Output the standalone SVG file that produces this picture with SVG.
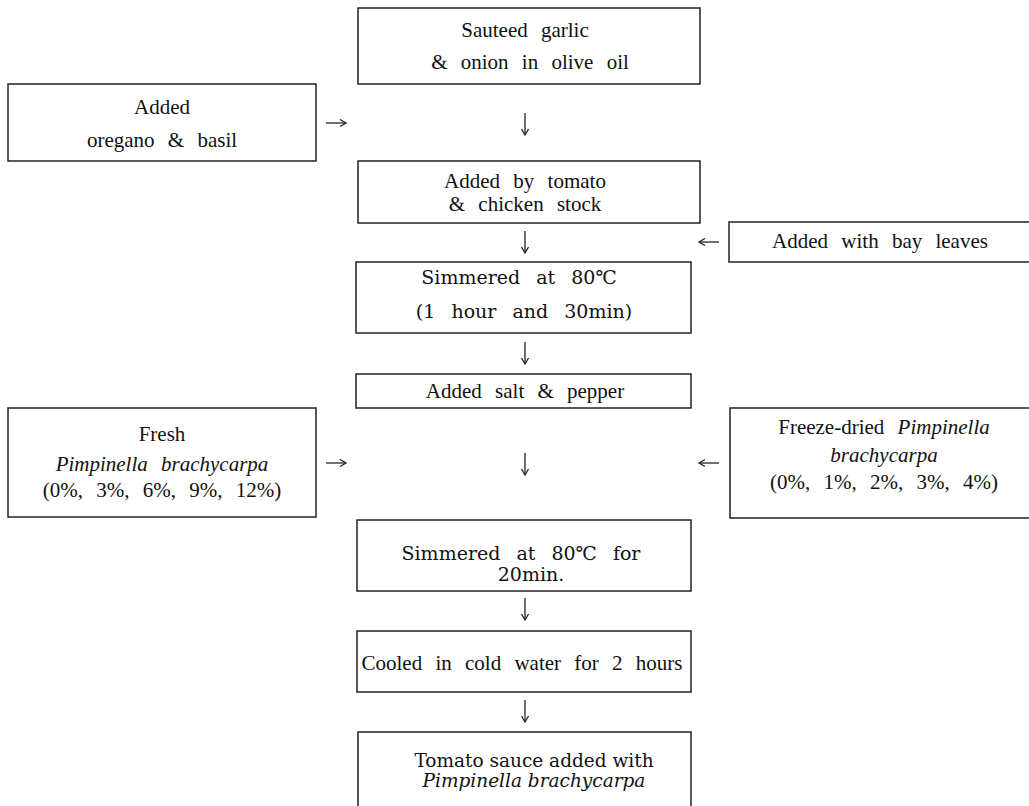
<svg xmlns="http://www.w3.org/2000/svg" width="1029" height="806" viewBox="0 0 1029 806">
<style>
rect.box{fill:#fff;stroke:#222;stroke-width:1.5}
text{fill:#111;text-anchor:middle}
.t{font-family:"Liberation Serif","Times New Roman",serif;font-size:21px;word-spacing:8px}
.b{font-family:"DejaVu Serif","Noto Sans CJK KR",serif;font-size:19px;word-spacing:10px}
.bt{font-size:18.5px;word-spacing:0px}
.i{font-style:italic}
.arr line{stroke:#222;stroke-width:1.3}
.arr path{fill:none;stroke:#222;stroke-width:1.3}
</style>
<rect width="1029" height="806" fill="#fff"/>
<g id="connectors" class="arr">
  <line x1="525" y1="113" x2="525" y2="135"/><path d="M521.5,129 L525,135 L528.5,129"/>
  <line x1="525" y1="231" x2="525" y2="253"/><path d="M521.5,247 L525,253 L528.5,247"/>
  <line x1="525" y1="342" x2="525" y2="364"/><path d="M521.5,358 L525,364 L528.5,358"/>
  <line x1="525" y1="453" x2="525" y2="475"/><path d="M521.5,469 L525,475 L528.5,469"/>
  <line x1="525" y1="598" x2="525" y2="620"/><path d="M521.5,614 L525,620 L528.5,614"/>
  <line x1="525" y1="700" x2="525" y2="722"/><path d="M521.5,716 L525,722 L528.5,716"/>
  <line x1="326" y1="123" x2="346" y2="123"/><path d="M340,119.5 L346,123 L340,126.5"/>
  <line x1="326" y1="463" x2="346" y2="463"/><path d="M340,459.5 L346,463 L340,466.5"/>
  <line x1="699" y1="242" x2="719" y2="242"/><path d="M705,238.5 L699,242 L705,245.5"/>
  <line x1="699" y1="463" x2="719" y2="463"/><path d="M705,459.5 L699,463 L705,466.5"/>
</g>
<g id="n1"><rect class="box" x="358" y="8" width="342" height="76"/>
  <text class="t" x="525" y="37">Sauteed garlic</text>
  <text class="t" x="530" y="69">&amp; onion in olive oil</text></g>
<g id="n_oregano"><rect class="box" x="8" y="84" width="308" height="77"/>
  <text class="t" x="162" y="114">Added</text>
  <text class="t" x="162" y="147">oregano &amp; basil</text></g>
<g id="n2"><rect class="box" x="358" y="161" width="342" height="62"/>
  <text class="t" x="525" y="188">Added by tomato</text>
  <text class="t" x="525" y="211">&amp; chicken stock</text></g>
<g id="n_bay"><rect class="box" x="729" y="222" width="310" height="40"/>
  <text class="t" x="880" y="248">Added with bay leaves</text></g>
<g id="n3"><rect class="box" x="356" y="262" width="335" height="71"/>
  <text class="b" x="519" y="284">Simmered at 80℃</text>
  <text class="b" x="524" y="318">(1 hour and 30min)</text></g>
<g id="n4"><rect class="box" x="356" y="374" width="335" height="34"/>
  <text class="t" x="525" y="398">Added salt &amp; pepper</text></g>
<g id="n_fresh"><rect class="box" x="8" y="408" width="308" height="109"/>
  <text class="t" x="162" y="441">Fresh</text>
  <text class="t i" x="162" y="471">Pimpinella brachycarpa</text>
  <text class="t" x="162" y="497">(0%, 3%, 6%, 9%, 12%)</text></g>
<g id="n_freeze"><rect class="box" x="730" y="408" width="310" height="110"/>
  <text class="t" x="884" y="434">Freeze-dried <tspan class="i">Pimpinella</tspan></text>
  <text class="t i" x="884" y="462">brachycarpa</text>
  <text class="t" x="884" y="489">(0%, 1%, 2%, 3%, 4%)</text></g>
<g id="n5"><rect class="box" x="357" y="520" width="334" height="71"/>
  <text class="b" x="521" y="560">Simmered at 80℃ for</text>
  <text class="b" x="531" y="581">20min.</text></g>
<g id="n6"><rect class="box" x="357" y="631" width="334" height="61"/>
  <text class="t" x="522" y="670">Cooled in cold water for 2 hours</text></g>
<g id="n7"><rect class="box" x="358" y="732" width="333" height="90"/>
  <text class="b bt" x="534" y="767">Tomato sauce added with</text>
  <text class="b bt i" x="534" y="787">Pimpinella brachycarpa</text></g>
</svg>
